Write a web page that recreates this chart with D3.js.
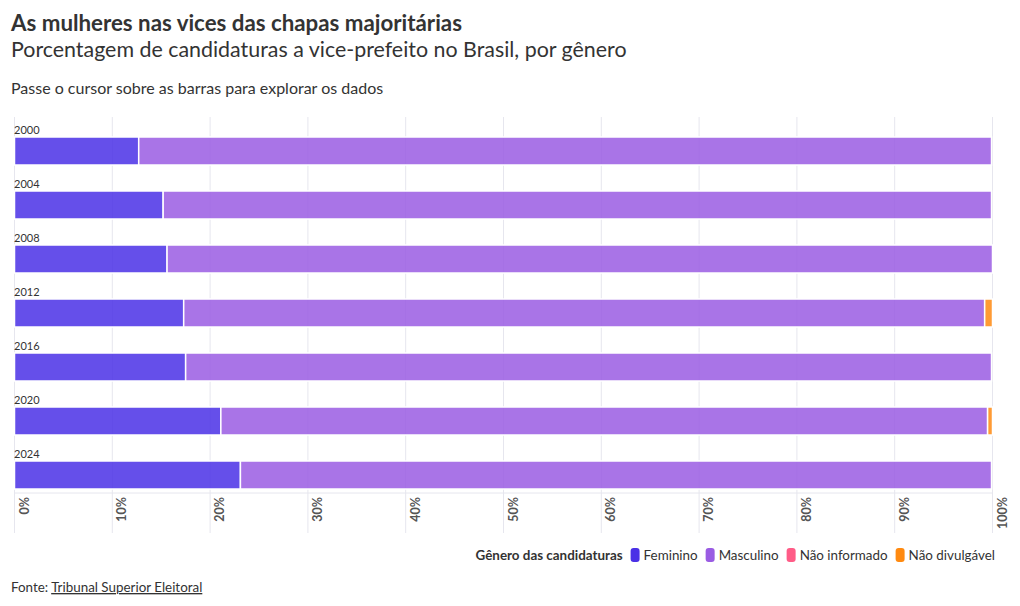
<!DOCTYPE html>
<html><head><meta charset="utf-8">
<script src="https://cdn.jsdelivr.net/npm/d3@7"></script>
<style>
body{margin:0;background:#fff;font-family:Lato, "Noto Sans", sans-serif;}
svg text{font-family:Lato, "Noto Sans", sans-serif;}
</style></head><body>
<svg id="chart" width="1020" height="606"></svg>
<script>
const years = ["2000","2004","2008","2012","2016","2020","2024"];
const seriesNames = ["Feminino","Masculino","Não informado","Não divulgável"];
const feminino = [12.7, 15.2, 15.6, 17.3, 17.5, 21.1, 23.1];
const masculino = [87.2, 84.7, 84.4, 81.9, 82.4, 78.4, 76.8];
const naoInformado = [0, 0, 0, 0, 0, 0, 0];
const naoDivulgavel = [0, 0, 0, 0.8, 0, 0.5, 0];
const tickValues = [0,10,20,30,40,50,60,70,80,90,100];
const colors = ["#4a30e6","#9a5ce3","#ff5c87","#ff8a10"];

const svg = d3.select("#chart");

// header
svg.append("text").attr("x",11).attr("y",31).attr("font-size",22.3).attr("font-weight",700).attr("fill","#333")
  .text("As mulheres nas vices das chapas majoritárias");
svg.append("text").attr("x",11).attr("y",57).attr("font-size",21.4).attr("fill","#333")
  .text("Porcentagem de candidaturas a vice-prefeito no Brasil, por gênero");
svg.append("text").attr("x",11).attr("y",94).attr("font-size",16).attr("fill","#333")
  .text("Passe o cursor sobre as barras para explorar os dados");

const x = d3.scaleLinear().domain([0,100]).range([14.5,992.5]);
const y = d3.scaleBand().domain(years).range([119,497]).paddingInner(0).paddingOuter(0);
const barH = 28, barOff = 18;

const data = years.map((yr,i)=>({year:yr, "Feminino":feminino[i], "Masculino":masculino[i], "Não informado":naoInformado[i], "Não divulgável":naoDivulgavel[i]}));
const stacked = d3.stack().keys(seriesNames)(data);
const color = d3.scaleOrdinal().domain(seriesNames).range(colors);

// grid
const g = svg.append("g");
g.selectAll("line.grid").data(tickValues).join("line").attr("class","grid")
  .attr("x1",d=>x(d)).attr("x2",d=>x(d)).attr("y1",117).attr("y2",533)
  .attr("stroke","#e6e6ee").attr("stroke-width",1);
g.append("line").attr("x1",x(0)).attr("x2",x(100)).attr("y1",493).attr("y2",493).attr("stroke","#e6e6ee");

// bars
g.selectAll("g.series").data(stacked).join("g").attr("class","series")
  .attr("fill",d=>color(d.key)).attr("fill-opacity",0.85)
  .selectAll("rect").data(d=>d).join("rect")
  .attr("x",d=>x(d[0])).attr("width",d=>Math.max(0,x(d[1])-x(d[0])))
  .attr("y",d=>y(d.data.year)+barOff).attr("height",barH)
  .attr("stroke","#fff").attr("stroke-width",d=>(d[1]-d[0])>0?1.5:0);

// year labels
g.selectAll("text.yr").data(years).join("text").attr("class","yr")
  .attr("x",14).attr("y",d=>y(d)+15).attr("font-size",11).attr("fill","#333").text(d=>d);

// x axis labels
g.selectAll("text.tick").data(tickValues).join("text").attr("class","tick")
  .attr("transform",d=>`translate(${x(d)+14},497) rotate(-90)`)
  .attr("text-anchor","end").attr("font-size",12.5).attr("font-weight",700).attr("fill","#555")
  .text(d=>d+"%");

// legend
const leg = svg.append("g");
const legendTitle = "Gênero das candidaturas";
const items = [{t:legendTitle,bold:true}].concat(seriesNames.map((s,i)=>({t:s,c:colors[i]})));
let lx = 995;
const legY = 560;
for (let i=items.length-1;i>=0;i--){
  const it = items[i];
  const t = leg.append("text").attr("y",legY).attr("font-size",13.4).attr("fill","#333")
    .attr("font-weight",it.bold?700:400).text(it.t);
  const w = t.node().getComputedTextLength();
  t.attr("x",lx-w);
  lx -= w;
  if(it.c){
    leg.append("rect").attr("x",lx-13).attr("y",legY-12).attr("width",9).attr("height",14).attr("rx",3).attr("fill",it.c);
    lx -= 13+8;
  } else lx -= 8;
}

// footer
const f = svg.append("text").attr("x",11).attr("y",592).attr("font-size",13.4).attr("fill","#333");
f.append("tspan").text("Fonte: ");
f.append("tspan").attr("text-decoration","underline").text("Tribunal Superior Eleitoral");
</script>
</body></html>
